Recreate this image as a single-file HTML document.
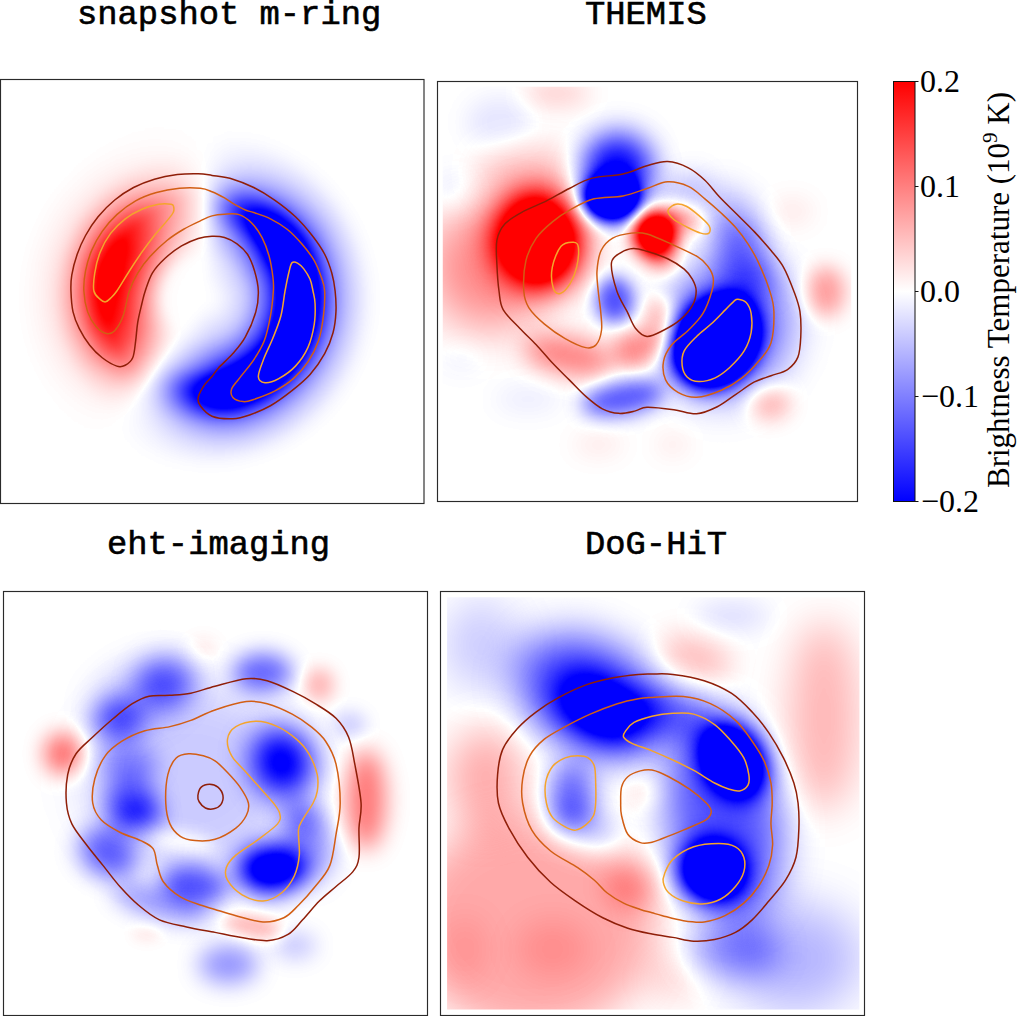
<!DOCTYPE html>
<html><head><meta charset="utf-8"><style>
html,body{margin:0;padding:0;background:#fff;width:1017px;height:1016px;overflow:hidden}
svg{display:block}
.tt{font-family:"Liberation Mono",monospace;font-size:33.8px;fill:#000;stroke:#000;stroke-width:0.6px}
.tk{font-family:"Liberation Serif",serif;font-size:32px;fill:#000}
.lb{font-family:"Liberation Serif",serif;font-size:31px;fill:#000}
.pl{mix-blend-mode:plus-lighter}
</style></head><body>
<svg width="1017" height="1016" viewBox="0 0 1017 1016">
<defs>
<filter id="p1_map" filterUnits="userSpaceOnUse" x="-200" y="-200" width="1416" height="1416" color-interpolation-filters="sRGB">
<feGaussianBlur stdDeviation="10"/>
<feColorMatrix type="matrix" values="2 -2 0 0 0  -2 2 0 0 0  0 0 0 0 0  0 0 0 0 1"/>
<feColorMatrix type="matrix" values="0 -1 0 0 1  -1 -1 0 0 1  -1 0 0 0 1  0 0 0 0 1"/>
</filter>
<clipPath id="p1_clip"><rect x="0" y="0" width="1016" height="1016"/></clipPath>
<radialGradient id="p1_rg" gradientUnits="userSpaceOnUse" cx="490" cy="525" r="500"><stop offset="0.0000" stop-color="#f00" stop-opacity="0.000"/><stop offset="0.1200" stop-color="#f00" stop-opacity="0.000"/><stop offset="0.1900" stop-color="#f00" stop-opacity="0.020"/><stop offset="0.2400" stop-color="#f00" stop-opacity="0.200"/><stop offset="0.2900" stop-color="#f00" stop-opacity="0.420"/><stop offset="0.3400" stop-color="#f00" stop-opacity="0.620"/><stop offset="0.4000" stop-color="#f00" stop-opacity="0.830"/><stop offset="0.4800" stop-color="#f00" stop-opacity="1.000"/><stop offset="0.5440" stop-color="#f00" stop-opacity="0.750"/><stop offset="0.5980" stop-color="#f00" stop-opacity="0.460"/><stop offset="0.6580" stop-color="#f00" stop-opacity="0.250"/><stop offset="0.7180" stop-color="#f00" stop-opacity="0.100"/><stop offset="0.7800" stop-color="#f00" stop-opacity="0.045"/><stop offset="0.8340" stop-color="#f00" stop-opacity="0.020"/><stop offset="0.9000" stop-color="#f00" stop-opacity="0.000"/><stop offset="1.0000" stop-color="#f00" stop-opacity="0.000"/></radialGradient><radialGradient id="p1_bg" gradientUnits="userSpaceOnUse" cx="490" cy="525" r="500"><stop offset="0.0000" stop-color="#0f0" stop-opacity="0.000"/><stop offset="0.0700" stop-color="#0f0" stop-opacity="0.015"/><stop offset="0.1400" stop-color="#0f0" stop-opacity="0.060"/><stop offset="0.1960" stop-color="#0f0" stop-opacity="0.110"/><stop offset="0.2540" stop-color="#0f0" stop-opacity="0.220"/><stop offset="0.3000" stop-color="#0f0" stop-opacity="0.330"/><stop offset="0.3480" stop-color="#0f0" stop-opacity="0.500"/><stop offset="0.3940" stop-color="#0f0" stop-opacity="0.750"/><stop offset="0.4480" stop-color="#0f0" stop-opacity="0.900"/><stop offset="0.5000" stop-color="#0f0" stop-opacity="0.750"/><stop offset="0.5500" stop-color="#0f0" stop-opacity="0.500"/><stop offset="0.6040" stop-color="#0f0" stop-opacity="0.280"/><stop offset="0.6520" stop-color="#0f0" stop-opacity="0.175"/><stop offset="0.7000" stop-color="#0f0" stop-opacity="0.100"/><stop offset="0.7800" stop-color="#0f0" stop-opacity="0.020"/><stop offset="0.8400" stop-color="#0f0" stop-opacity="0.000"/><stop offset="1.0000" stop-color="#0f0" stop-opacity="0.000"/></radialGradient>
</defs>
<g transform="translate(0 79) scale(0.417323)">
<g clip-path="url(#p1_clip)"><g filter="url(#p1_map)">
<rect x="-200" y="-200" width="1416" height="1416" fill="#000"/>
<path class="pl" d="M490 525 L990 525 L989.8 538.1 L989.3 551.2Z" fill="url(#p1_bg)" fill-opacity="1.000"/>
<path class="pl" d="M490 525 L989.3 551.2 L988.5 564.2 L987.3 577.3Z" fill="url(#p1_bg)" fill-opacity="1.000"/>
<path class="pl" d="M490 525 L987.3 577.3 L985.7 590.3 L983.8 603.2Z" fill="url(#p1_bg)" fill-opacity="1.000"/>
<path class="pl" d="M490 525 L983.8 603.2 L981.6 616.1 L979.1 629Z" fill="url(#p1_bg)" fill-opacity="1.000"/>
<path class="pl" d="M490 525 L979.1 629 L976.2 641.7 L973 654.4Z" fill="url(#p1_bg)" fill-opacity="1.000"/>
<path class="pl" d="M490 525 L973 654.4 L969.4 667 L965.5 679.5Z" fill="url(#p1_bg)" fill-opacity="1.000"/>
<path class="pl" d="M490 525 L965.5 679.5 L961.3 691.9 L956.8 704.2Z" fill="url(#p1_bg)" fill-opacity="1.000"/>
<path class="pl" d="M490 525 L956.8 704.2 L951.9 716.3 L946.8 728.4Z" fill="url(#p1_bg)" fill-opacity="1.000"/>
<path class="pl" d="M490 525 L946.8 728.4 L941.3 740.3 L935.5 752Z" fill="url(#p1_bg)" fill-opacity="1.000"/>
<path class="pl" d="M490 525 L935.5 752 L929.4 763.6 L923 775Z" fill="url(#p1_bg)" fill-opacity="1.000"/>
<path class="pl" d="M490 525 L923 775 L916.3 786.2 L909.3 797.3Z" fill="url(#p1_bg)" fill-opacity="1.000"/>
<path class="pl" d="M490 525 L909.3 797.3 L902.1 808.2 L894.5 818.9Z" fill="url(#p1_bg)" fill-opacity="1.000"/>
<path class="pl" d="M490 525 L894.5 818.9 L886.7 829.4 L878.6 839.7Z" fill="url(#p1_bg)" fill-opacity="1.000"/>
<path class="pl" d="M490 525 L878.6 839.7 L870.2 849.7 L861.6 859.6Z" fill="url(#p1_bg)" fill-opacity="1.000"/>
<path class="pl" d="M490 525 L861.6 859.6 L852.7 869.2 L843.6 878.6Z" fill="url(#p1_bg)" fill-opacity="1.000"/>
<path class="pl" d="M490 525 L843.6 878.6 L834.2 887.7 L824.6 896.6Z" fill="url(#p1_bg)" fill-opacity="1.000"/>
<path class="pl" d="M490 525 L824.6 896.6 L814.7 905.2 L804.7 913.6Z" fill="url(#p1_bg)" fill-opacity="1.000"/>
<path class="pl" d="M490 525 L804.7 913.6 L794.4 921.7 L783.9 929.5Z" fill="url(#p1_bg)" fill-opacity="1.000"/>
<path class="pl" d="M490 525 L783.9 929.5 L773.2 937.1 L762.3 944.3Z" fill="url(#p1_bg)" fill-opacity="1.000"/>
<path class="pl" d="M490 525 L762.3 944.3 L751.2 951.3 L740 958Z" fill="url(#p1_bg)" fill-opacity="1.000"/>
<path class="pl" d="M490 525 L740 958 L728.6 964.4 L717 970.5Z" fill="url(#p1_bg)" fill-opacity="0.995"/>
<path class="pl" d="M490 525 L717 970.5 L705.3 976.3 L693.4 981.8Z" fill="url(#p1_bg)" fill-opacity="0.985"/>
<path class="pl" d="M490 525 L693.4 981.8 L681.3 986.9 L669.2 991.8Z" fill="url(#p1_bg)" fill-opacity="0.975"/>
<path class="pl" d="M490 525 L669.2 991.8 L656.9 996.3 L644.5 1000.5Z" fill="url(#p1_bg)" fill-opacity="0.965"/>
<path class="pl" d="M490 525 L644.5 1000.5 L632 1004.4 L619.4 1008Z" fill="url(#p1_bg)" fill-opacity="0.955"/>
<path class="pl" d="M490 525 L619.4 1008 L606.7 1011.2 L594 1014.1Z" fill="url(#p1_bg)" fill-opacity="0.930"/>
<path class="pl" d="M490 525 L594 1014.1 L581.1 1016.6 L568.2 1018.8Z" fill="url(#p1_bg)" fill-opacity="0.891"/>
<path class="pl" d="M490 525 L568.2 1018.8 L555.3 1020.7 L542.3 1022.3Z" fill="url(#p1_bg)" fill-opacity="0.852"/>
<path class="pl" d="M490 525 L542.3 1022.3 L529.2 1023.5 L516.2 1024.3Z" fill="url(#p1_bg)" fill-opacity="0.810"/>
<path class="pl" d="M490 525 L516.2 1024.3 L503.1 1024.8 L490 1025Z" fill="url(#p1_bg)" fill-opacity="0.750"/>
<path class="pl" d="M490 525 L490 1025 L476.9 1024.8 L463.8 1024.3Z" fill="url(#p1_bg)" fill-opacity="0.690"/>
<path class="pl" d="M490 525 L463.8 1024.3 L450.8 1023.5 L437.7 1022.3Z" fill="url(#p1_bg)" fill-opacity="0.630"/>
<path class="pl" d="M490 525 L437.7 1022.3 L424.7 1020.7 L411.8 1018.8Z" fill="url(#p1_bg)" fill-opacity="0.565"/>
<path class="pl" d="M490 525 L411.8 1018.8 L398.9 1016.6 L386 1014.1Z" fill="url(#p1_bg)" fill-opacity="0.499"/>
<path class="pl" d="M490 525 L386 1014.1 L373.3 1011.2 L360.6 1008Z" fill="url(#p1_bg)" fill-opacity="0.433"/>
<path class="pl" d="M490 525 L360.6 1008 L348 1004.4 L335.5 1000.5Z" fill="url(#p1_bg)" fill-opacity="0.366"/>
<path class="pl" d="M490 525 L335.5 1000.5 L323.1 996.3 L310.8 991.8Z" fill="url(#p1_bg)" fill-opacity="0.299"/>
<path class="pl" d="M490 525 L310.8 991.8 L298.7 986.9 L286.6 981.8Z" fill="url(#p1_bg)" fill-opacity="0.231"/>
<path class="pl" d="M490 525 L286.6 981.8 L274.7 976.3 L263 970.5Z" fill="url(#p1_bg)" fill-opacity="0.170"/>
<path class="pl" d="M490 525 L263 970.5 L251.4 964.4 L240 958Z" fill="url(#p1_bg)" fill-opacity="0.110"/>
<path class="pl" d="M490 525 L240 958 L228.8 951.3 L217.7 944.3Z" fill="url(#p1_bg)" fill-opacity="0.050"/>
<path class="pl" d="M490 525 L217.7 944.3 L206.8 937.1 L196.1 929.5Z" fill="url(#p1_rg)" fill-opacity="0.008"/>
<path class="pl" d="M490 525 L196.1 929.5 L185.6 921.7 L175.3 913.6Z" fill="url(#p1_rg)" fill-opacity="0.057"/>
<path class="pl" d="M490 525 L175.3 913.6 L165.3 905.2 L155.4 896.6Z" fill="url(#p1_rg)" fill-opacity="0.105"/>
<path class="pl" d="M490 525 L155.4 896.6 L145.8 887.7 L136.4 878.6Z" fill="url(#p1_rg)" fill-opacity="0.153"/>
<path class="pl" d="M490 525 L136.4 878.6 L127.3 869.2 L118.4 859.6Z" fill="url(#p1_rg)" fill-opacity="0.202"/>
<path class="pl" d="M490 525 L118.4 859.6 L109.8 849.7 L101.4 839.7Z" fill="url(#p1_rg)" fill-opacity="0.243"/>
<path class="pl" d="M490 525 L101.4 839.7 L93.3 829.4 L85.5 818.9Z" fill="url(#p1_rg)" fill-opacity="0.283"/>
<path class="pl" d="M490 525 L85.5 818.9 L77.9 808.2 L70.7 797.3Z" fill="url(#p1_rg)" fill-opacity="0.322"/>
<path class="pl" d="M490 525 L70.7 797.3 L63.7 786.2 L57 775Z" fill="url(#p1_rg)" fill-opacity="0.362"/>
<path class="pl" d="M490 525 L57 775 L50.6 763.6 L44.5 752Z" fill="url(#p1_rg)" fill-opacity="0.401"/>
<path class="pl" d="M490 525 L44.5 752 L38.7 740.3 L33.2 728.4Z" fill="url(#p1_rg)" fill-opacity="0.428"/>
<path class="pl" d="M490 525 L33.2 728.4 L28.1 716.3 L23.2 704.2Z" fill="url(#p1_rg)" fill-opacity="0.452"/>
<path class="pl" d="M490 525 L23.2 704.2 L18.7 691.9 L14.5 679.5Z" fill="url(#p1_rg)" fill-opacity="0.476"/>
<path class="pl" d="M490 525 L14.5 679.5 L10.6 667 L7 654.4Z" fill="url(#p1_rg)" fill-opacity="0.500"/>
<path class="pl" d="M490 525 L7 654.4 L3.8 641.7 L0.9 629Z" fill="url(#p1_rg)" fill-opacity="0.524"/>
<path class="pl" d="M490 525 L0.9 629 L-1.6 616.1 L-3.8 603.2Z" fill="url(#p1_rg)" fill-opacity="0.537"/>
<path class="pl" d="M490 525 L-3.8 603.2 L-5.7 590.3 L-7.3 577.3Z" fill="url(#p1_rg)" fill-opacity="0.548"/>
<path class="pl" d="M490 525 L-7.3 577.3 L-8.5 564.2 L-9.3 551.2Z" fill="url(#p1_rg)" fill-opacity="0.559"/>
<path class="pl" d="M490 525 L-9.3 551.2 L-9.8 538.1 L-10 525Z" fill="url(#p1_rg)" fill-opacity="0.569"/>
<path class="pl" d="M490 525 L-10 525 L-9.8 511.9 L-9.3 498.8Z" fill="url(#p1_rg)" fill-opacity="0.580"/>
<path class="pl" d="M490 525 L-9.3 498.8 L-8.5 485.8 L-7.3 472.7Z" fill="url(#p1_rg)" fill-opacity="0.585"/>
<path class="pl" d="M490 525 L-7.3 472.7 L-5.7 459.7 L-3.8 446.8Z" fill="url(#p1_rg)" fill-opacity="0.589"/>
<path class="pl" d="M490 525 L-3.8 446.8 L-1.6 433.9 L0.9 421Z" fill="url(#p1_rg)" fill-opacity="0.592"/>
<path class="pl" d="M490 525 L0.9 421 L3.8 408.3 L7 395.6Z" fill="url(#p1_rg)" fill-opacity="0.596"/>
<path class="pl" d="M490 525 L7 395.6 L10.6 383 L14.5 370.5Z" fill="url(#p1_rg)" fill-opacity="0.599"/>
<path class="pl" d="M490 525 L14.5 370.5 L18.7 358.1 L23.2 345.8Z" fill="url(#p1_rg)" fill-opacity="0.592"/>
<path class="pl" d="M490 525 L23.2 345.8 L28.1 333.7 L33.2 321.6Z" fill="url(#p1_rg)" fill-opacity="0.582"/>
<path class="pl" d="M490 525 L33.2 321.6 L38.7 309.7 L44.5 298Z" fill="url(#p1_rg)" fill-opacity="0.573"/>
<path class="pl" d="M490 525 L44.5 298 L50.6 286.4 L57 275Z" fill="url(#p1_rg)" fill-opacity="0.563"/>
<path class="pl" d="M490 525 L57 275 L63.7 263.8 L70.7 252.7Z" fill="url(#p1_rg)" fill-opacity="0.554"/>
<path class="pl" d="M490 525 L70.7 252.7 L77.9 241.8 L85.5 231.1Z" fill="url(#p1_rg)" fill-opacity="0.532"/>
<path class="pl" d="M490 525 L85.5 231.1 L93.3 220.6 L101.4 210.3Z" fill="url(#p1_rg)" fill-opacity="0.508"/>
<path class="pl" d="M490 525 L101.4 210.3 L109.8 200.3 L118.4 190.4Z" fill="url(#p1_rg)" fill-opacity="0.484"/>
<path class="pl" d="M490 525 L118.4 190.4 L127.3 180.8 L136.4 171.4Z" fill="url(#p1_rg)" fill-opacity="0.460"/>
<path class="pl" d="M490 525 L136.4 171.4 L145.8 162.3 L155.4 153.4Z" fill="url(#p1_rg)" fill-opacity="0.436"/>
<path class="pl" d="M490 525 L155.4 153.4 L165.3 144.8 L175.3 136.4Z" fill="url(#p1_rg)" fill-opacity="0.405"/>
<path class="pl" d="M490 525 L175.3 136.4 L185.6 128.3 L196.1 120.5Z" fill="url(#p1_rg)" fill-opacity="0.373"/>
<path class="pl" d="M490 525 L196.1 120.5 L206.8 112.9 L217.7 105.7Z" fill="url(#p1_rg)" fill-opacity="0.340"/>
<path class="pl" d="M490 525 L217.7 105.7 L228.8 98.7 L240 92Z" fill="url(#p1_rg)" fill-opacity="0.308"/>
<path class="pl" d="M490 525 L240 92 L251.4 85.6 L263 79.5Z" fill="url(#p1_rg)" fill-opacity="0.275"/>
<path class="pl" d="M490 525 L263 79.5 L274.7 73.7 L286.6 68.2Z" fill="url(#p1_rg)" fill-opacity="0.247"/>
<path class="pl" d="M490 525 L286.6 68.2 L298.7 63.1 L310.8 58.2Z" fill="url(#p1_rg)" fill-opacity="0.219"/>
<path class="pl" d="M490 525 L310.8 58.2 L323.1 53.7 L335.5 49.5Z" fill="url(#p1_rg)" fill-opacity="0.192"/>
<path class="pl" d="M490 525 L335.5 49.5 L348 45.6 L360.6 42Z" fill="url(#p1_rg)" fill-opacity="0.164"/>
<path class="pl" d="M490 525 L360.6 42 L373.3 38.8 L386 35.9Z" fill="url(#p1_rg)" fill-opacity="0.137"/>
<path class="pl" d="M490 525 L386 35.9 L398.9 33.4 L411.8 31.2Z" fill="url(#p1_rg)" fill-opacity="0.107"/>
<path class="pl" d="M490 525 L411.8 31.2 L424.7 29.3 L437.7 27.7Z" fill="url(#p1_rg)" fill-opacity="0.076"/>
<path class="pl" d="M490 525 L437.7 27.7 L450.8 26.5 L463.8 25.7Z" fill="url(#p1_rg)" fill-opacity="0.046"/>
<path class="pl" d="M490 525 L463.8 25.7 L476.9 25.2 L490 25Z" fill="url(#p1_rg)" fill-opacity="0.015"/>
<path class="pl" d="M490 525 L490 25 L503.1 25.2 L516.2 25.7Z" fill="url(#p1_bg)" fill-opacity="0.036"/>
<path class="pl" d="M490 525 L516.2 25.7 L529.2 26.5 L542.3 27.7Z" fill="url(#p1_bg)" fill-opacity="0.108"/>
<path class="pl" d="M490 525 L542.3 27.7 L555.3 29.3 L568.2 31.2Z" fill="url(#p1_bg)" fill-opacity="0.185"/>
<path class="pl" d="M490 525 L568.2 31.2 L581.1 33.4 L594 35.9Z" fill="url(#p1_bg)" fill-opacity="0.262"/>
<path class="pl" d="M490 525 L594 35.9 L606.7 38.8 L619.4 42Z" fill="url(#p1_bg)" fill-opacity="0.331"/>
<path class="pl" d="M490 525 L619.4 42 L632 45.6 L644.5 49.5Z" fill="url(#p1_bg)" fill-opacity="0.399"/>
<path class="pl" d="M490 525 L644.5 49.5 L656.9 53.7 L669.2 58.2Z" fill="url(#p1_bg)" fill-opacity="0.468"/>
<path class="pl" d="M490 525 L669.2 58.2 L681.3 63.1 L693.4 68.2Z" fill="url(#p1_bg)" fill-opacity="0.522"/>
<path class="pl" d="M490 525 L693.4 68.2 L705.3 73.7 L717 79.5Z" fill="url(#p1_bg)" fill-opacity="0.574"/>
<path class="pl" d="M490 525 L717 79.5 L728.6 85.6 L740 92Z" fill="url(#p1_bg)" fill-opacity="0.625"/>
<path class="pl" d="M490 525 L740 92 L751.2 98.7 L762.3 105.7Z" fill="url(#p1_bg)" fill-opacity="0.672"/>
<path class="pl" d="M490 525 L762.3 105.7 L773.2 112.9 L783.9 120.5Z" fill="url(#p1_bg)" fill-opacity="0.718"/>
<path class="pl" d="M490 525 L783.9 120.5 L794.4 128.3 L804.7 136.4Z" fill="url(#p1_bg)" fill-opacity="0.763"/>
<path class="pl" d="M490 525 L804.7 136.4 L814.7 144.8 L824.6 153.4Z" fill="url(#p1_bg)" fill-opacity="0.806"/>
<path class="pl" d="M490 525 L824.6 153.4 L834.2 162.3 L843.6 171.4Z" fill="url(#p1_bg)" fill-opacity="0.842"/>
<path class="pl" d="M490 525 L843.6 171.4 L852.7 180.8 L861.6 190.4Z" fill="url(#p1_bg)" fill-opacity="0.878"/>
<path class="pl" d="M490 525 L861.6 190.4 L870.2 200.3 L878.6 210.3Z" fill="url(#p1_bg)" fill-opacity="0.914"/>
<path class="pl" d="M490 525 L878.6 210.3 L886.7 220.6 L894.5 231.1Z" fill="url(#p1_bg)" fill-opacity="0.940"/>
<path class="pl" d="M490 525 L894.5 231.1 L902.1 241.8 L909.3 252.7Z" fill="url(#p1_bg)" fill-opacity="0.964"/>
<path class="pl" d="M490 525 L909.3 252.7 L916.3 263.8 L923 275Z" fill="url(#p1_bg)" fill-opacity="0.988"/>
<path class="pl" d="M490 525 L923 275 L929.4 286.4 L935.5 298Z" fill="url(#p1_bg)" fill-opacity="1.000"/>
<path class="pl" d="M490 525 L935.5 298 L941.3 309.7 L946.8 321.6Z" fill="url(#p1_bg)" fill-opacity="1.000"/>
<path class="pl" d="M490 525 L946.8 321.6 L951.9 333.7 L956.8 345.8Z" fill="url(#p1_bg)" fill-opacity="1.000"/>
<path class="pl" d="M490 525 L956.8 345.8 L961.3 358.1 L965.5 370.5Z" fill="url(#p1_bg)" fill-opacity="1.000"/>
<path class="pl" d="M490 525 L965.5 370.5 L969.4 383 L973 395.6Z" fill="url(#p1_bg)" fill-opacity="1.000"/>
<path class="pl" d="M490 525 L973 395.6 L976.2 408.3 L979.1 421Z" fill="url(#p1_bg)" fill-opacity="1.000"/>
<path class="pl" d="M490 525 L979.1 421 L981.6 433.9 L983.8 446.8Z" fill="url(#p1_bg)" fill-opacity="1.000"/>
<path class="pl" d="M490 525 L983.8 446.8 L985.7 459.7 L987.3 472.7Z" fill="url(#p1_bg)" fill-opacity="1.000"/>
<path class="pl" d="M490 525 L987.3 472.7 L988.5 485.8 L989.3 498.8Z" fill="url(#p1_bg)" fill-opacity="1.000"/>
<path class="pl" d="M490 525 L989.3 498.8 L989.8 511.9 L990 525Z" fill="url(#p1_bg)" fill-opacity="1.000"/>
</g></g>
<path d="M300 686 C293.7 689.3 289.2 691 280 688 C270.8 685 255.8 676.3 245 668 C234.2 659.7 224.2 649.7 215 638 C205.8 626.3 196.7 611.3 190 598 C183.3 584.7 178.3 573 175 558 C171.7 543 170.5 522.7 170 508 C169.5 493.3 169.5 484.7 172 470 C174.5 455.3 179.5 435.8 185 420 C190.5 404.2 196.7 390 205 375 C213.3 360 223.3 344.2 235 330 C246.7 315.8 260.8 301.7 275 290 C289.2 278.3 304.2 268.3 320 260 C335.8 251.7 352.5 245.2 370 240 C387.5 234.8 407.5 231.2 425 229 C442.5 226.8 461.2 226.7 475 227 C488.8 227.3 494.2 228.8 508 231 C521.8 233.2 541.3 235.2 558 240 C574.7 244.8 591.3 251.7 608 260 C624.7 268.3 641.3 278.3 658 290 C674.7 301.7 693 315.8 708 330 C723 344.2 736.3 360 748 375 C759.7 390 770.2 405 778 420 C785.8 435 790.8 450.3 795 465 C799.2 479.7 801.3 492.5 803 508 C804.7 523.5 805.8 541.3 805 558 C804.2 574.7 802.5 591.3 798 608 C793.5 624.7 787.2 641.3 778 658 C768.8 674.7 756.3 693 743 708 C729.7 723 713.8 735.5 698 748 C682.2 760.5 664.7 773.5 648 783 C631.3 792.5 613 799.8 598 805 C583 810.2 573 813.5 558 814 C543 814.5 521 813.2 508 808 C495 802.8 485.5 790.5 480 783 C474.5 775.5 473.3 771.3 475 763 C476.7 754.7 484.5 741.3 490 733 C495.5 724.7 502.5 719.7 508 713 C513.5 706.3 514.7 702.2 523 693 C531.3 683.8 547.2 670.5 558 658 C568.8 645.5 578.8 634.7 588 618 C597.2 601.3 607.8 576.3 613 558 C618.2 539.7 619.5 524.3 619 508 C618.5 491.7 614.3 474.7 610 460 C605.7 445.3 600 430.8 593 420 C586 409.2 577.2 401.7 568 395 C558.8 388.3 548 383 538 380 C528 377 518.5 376.7 508 377 C497.5 377.3 487.2 378.2 475 382 C462.8 385.8 448.3 392 435 400 C421.7 408 406.7 419.2 395 430 C383.3 440.8 372.8 452 365 465 C357.2 478 352.2 495.8 348 508 C343.8 520.2 343 525.5 340 538 C337 550.5 332.5 568 330 583 C327.5 598 327 613.8 325 628 C323 642.2 322.2 658.3 318 668 C313.8 677.7 306.3 682.7 300 686Z" fill="none" stroke="#8f1e08" stroke-width="3.6" stroke-linejoin="round"/>
<path d="M255 610 C247.5 608.3 237.5 601.7 230 593 C222.5 584.3 214.8 572.2 210 558 C205.2 543.8 201.8 524.3 201 508 C200.2 491.7 201.8 476.3 205 460 C208.2 443.7 213.3 425.8 220 410 C226.7 394.2 235 379.2 245 365 C255 350.8 266.7 337.2 280 325 C293.3 312.8 309.2 300.8 325 292 C340.8 283.2 357.5 277 375 272 C392.5 267 412.5 263.7 430 262 C447.5 260.3 467 260.7 480 262 C493 263.3 498.3 266.2 508 270 C517.7 273.8 529.7 280.3 538 285 C546.3 289.7 549.7 293.2 558 298 C566.3 302.8 579.7 310.3 588 314 C596.3 317.7 598 316.5 608 320 C618 323.5 634.7 328.3 648 335 C661.3 341.7 675.5 350 688 360 C700.5 370 712.2 382.5 723 395 C733.8 407.5 745.2 421.7 753 435 C760.8 448.3 765.8 462.8 770 475 C774.2 487.2 777.2 492.5 778 508 C778.8 523.5 777.5 548 775 568 C772.5 588 769.2 609.7 763 628 C756.8 646.3 748 663 738 678 C728 693 716.3 706.3 703 718 C689.7 729.7 673.8 739.7 658 748 C642.2 756.3 620.5 763.8 608 768 C595.5 772.2 591.3 773.8 583 773 C574.7 772.2 562.7 768 558 763 C553.3 758 552.5 750.5 555 743 C557.5 735.5 564.2 729.7 573 718 C581.8 706.3 598 688 608 673 C618 658 626.3 645.5 633 628 C639.7 610.5 644.3 588 648 568 C651.7 548 654 523.5 655 508 C656 492.5 655.7 488.8 654 475 C652.3 461.2 649.3 440.8 645 425 C640.7 409.2 635 393.3 628 380 C621 366.7 612.2 354.2 603 345 C593.8 335.8 583.8 328.5 573 325 C562.2 321.5 548.8 323.5 538 324 C527.2 324.5 517.7 325.3 508 328 C498.3 330.7 491.3 334.7 480 340 C468.7 345.3 453.3 352.2 440 360 C426.7 367.8 413.3 376.2 400 387 C386.7 397.8 371.7 412 360 425 C348.3 438 338.3 451.2 330 465 C321.7 478.8 315.8 490.8 310 508 C304.2 525.2 300.8 552.2 295 568 C289.2 583.8 281.7 596 275 603 C268.3 610 262.5 611.7 255 610Z" fill="none" stroke="#d25e14" stroke-width="3.6" stroke-linejoin="round"/>
<path d="M225 508 C222.8 497.5 224.5 480.5 227 465 C229.5 449.5 233.7 430.8 240 415 C246.3 399.2 255 383.3 265 370 C275 356.7 287.5 344.7 300 335 C312.5 325.3 326.7 317.8 340 312 C353.3 306.2 368.3 302 380 300 C391.7 298 404 299 410 300 C416 301 415.2 302.7 416 306 C416.8 309.3 417.7 314.3 415 320 C412.3 325.7 407.5 330.8 400 340 C392.5 349.2 380 362.5 370 375 C360 387.5 350 400.8 340 415 C330 429.2 320 444.5 310 460 C300 475.5 287.5 497.2 280 508 C272.5 518.8 269.5 520.7 265 525 C260.5 529.3 257.2 533.5 253 534 C248.8 534.5 244.7 532.3 240 528 C235.3 523.7 227.2 518.5 225 508Z" fill="none" stroke="#f4a42c" stroke-width="3.6" stroke-linejoin="round"/>
<path d="M693 460 C695.8 448.7 696.7 443.2 700 440 C703.3 436.8 708.3 438.5 713 441 C717.7 443.5 723 448.5 728 455 C733 461.5 739.3 471.2 743 480 C746.7 488.8 748 498.3 750 508 C752 517.7 754.5 524.7 755 538 C755.5 551.3 755.8 570.5 753 588 C750.2 605.5 745.5 626.3 738 643 C730.5 659.7 719.7 675.5 708 688 C696.3 700.5 680.2 711.3 668 718 C655.8 724.7 643.2 728.8 635 728 C626.8 727.2 619.3 723 619 713 C618.7 703 627.3 683 633 668 C638.7 653 646.3 639.7 653 623 C659.7 606.3 668 587.2 673 568 C678 548.8 679.7 526 683 508 C686.3 490 690.2 471.3 693 460Z" fill="none" stroke="#f4a42c" stroke-width="3.6" stroke-linejoin="round"/>
</g>
<defs>
<filter id="p2_b46" filterUnits="userSpaceOnUse" x="-200" y="-200" width="1416" height="1416" color-interpolation-filters="sRGB"><feGaussianBlur stdDeviation="46"/></filter>
<filter id="p2_b60" filterUnits="userSpaceOnUse" x="-200" y="-200" width="1416" height="1416" color-interpolation-filters="sRGB"><feGaussianBlur stdDeviation="60"/></filter>
<filter id="p2_b40" filterUnits="userSpaceOnUse" x="-200" y="-200" width="1416" height="1416" color-interpolation-filters="sRGB"><feGaussianBlur stdDeviation="40"/></filter>
<filter id="p2_b25" filterUnits="userSpaceOnUse" x="-200" y="-200" width="1416" height="1416" color-interpolation-filters="sRGB"><feGaussianBlur stdDeviation="25"/></filter>
<filter id="p2_b20" filterUnits="userSpaceOnUse" x="-200" y="-200" width="1416" height="1416" color-interpolation-filters="sRGB"><feGaussianBlur stdDeviation="20"/></filter>
<filter id="p2_b30" filterUnits="userSpaceOnUse" x="-200" y="-200" width="1416" height="1416" color-interpolation-filters="sRGB"><feGaussianBlur stdDeviation="30"/></filter>
<filter id="p2_b35" filterUnits="userSpaceOnUse" x="-200" y="-200" width="1416" height="1416" color-interpolation-filters="sRGB"><feGaussianBlur stdDeviation="35"/></filter>
<filter id="p2_b50" filterUnits="userSpaceOnUse" x="-200" y="-200" width="1416" height="1416" color-interpolation-filters="sRGB"><feGaussianBlur stdDeviation="50"/></filter>
<filter id="p2_b28" filterUnits="userSpaceOnUse" x="-200" y="-200" width="1416" height="1416" color-interpolation-filters="sRGB"><feGaussianBlur stdDeviation="28"/></filter>
<filter id="p2_map" filterUnits="userSpaceOnUse" x="-200" y="-200" width="1416" height="1416" color-interpolation-filters="sRGB">
<feColorMatrix type="matrix" values="2 -2 0 0 0  -2 2 0 0 0  0 0 0 0 0  0 0 0 0 1"/>
<feColorMatrix type="matrix" values="0 -1 0 0 1  -1 -1 0 0 1  -1 0 0 0 1  0 0 0 0 1"/>
</filter>
<clipPath id="p2_clip"><rect x="14" y="14" width="988" height="988"/></clipPath>

</defs>
<g transform="translate(437 81) scale(0.413386)">
<g clip-path="url(#p2_clip)"><g filter="url(#p2_map)">
<rect x="-200" y="-200" width="1416" height="1416" fill="#000"/>
<ellipse class="pl" cx="250" cy="382" rx="88" ry="104" transform="rotate(-15 250 382)" fill="#f00" fill-opacity="1.000" filter="url(#p2_b46)"/>
<ellipse class="pl" cx="130" cy="450" rx="150" ry="150" fill="#f00" fill-opacity="0.240" filter="url(#p2_b60)"/>
<ellipse class="pl" cx="220" cy="220" rx="120" ry="60" fill="#f00" fill-opacity="0.120" filter="url(#p2_b40)"/>
<ellipse class="pl" cx="528" cy="370" rx="46" ry="50" fill="#f00" fill-opacity="1.000" filter="url(#p2_b25)"/>
<ellipse class="pl" cx="548" cy="440" rx="40" ry="30" fill="#f00" fill-opacity="0.150" filter="url(#p2_b20)"/>
<ellipse class="pl" cx="600" cy="330" rx="50" ry="25" transform="rotate(30 600 330)" fill="#f00" fill-opacity="0.200" filter="url(#p2_b20)"/>
<ellipse class="pl" cx="320" cy="665" rx="110" ry="45" transform="rotate(10 320 665)" fill="#f00" fill-opacity="0.250" filter="url(#p2_b30)"/>
<ellipse class="pl" cx="480" cy="650" rx="50" ry="45" fill="#f00" fill-opacity="0.250" filter="url(#p2_b25)"/>
<ellipse class="pl" cx="540" cy="590" rx="35" ry="70" fill="#f00" fill-opacity="0.250" filter="url(#p2_b25)"/>
<ellipse class="pl" cx="940" cy="510" rx="45" ry="60" fill="#f00" fill-opacity="0.200" filter="url(#p2_b25)"/>
<ellipse class="pl" cx="803" cy="778" rx="50" ry="40" fill="#f00" fill-opacity="0.170" filter="url(#p2_b25)"/>
<ellipse class="pl" cx="290" cy="30" rx="80" ry="30" fill="#f00" fill-opacity="0.100" filter="url(#p2_b30)"/>
<ellipse class="pl" cx="860" cy="315" rx="50" ry="30" fill="#f00" fill-opacity="0.050" filter="url(#p2_b30)"/>
<ellipse class="pl" cx="390" cy="880" rx="60" ry="25" fill="#f00" fill-opacity="0.050" filter="url(#p2_b30)"/>
<ellipse class="pl" cx="570" cy="880" rx="40" ry="25" fill="#f00" fill-opacity="0.050" filter="url(#p2_b30)"/>
<ellipse class="pl" cx="420" cy="285" rx="62" ry="45" fill="#0f0" fill-opacity="1.000" filter="url(#p2_b25)"/>
<ellipse class="pl" cx="440" cy="200" rx="80" ry="80" fill="#0f0" fill-opacity="0.300" filter="url(#p2_b35)"/>
<ellipse class="pl" cx="430" cy="240" rx="90" ry="90" fill="#0f0" fill-opacity="0.250" filter="url(#p2_b40)"/>
<ellipse class="pl" cx="675" cy="630" rx="85" ry="110" transform="rotate(35 675 630)" fill="#0f0" fill-opacity="1.000" filter="url(#p2_b30)"/>
<ellipse class="pl" cx="700" cy="600" rx="150" ry="170" transform="rotate(30 700 600)" fill="#0f0" fill-opacity="0.300" filter="url(#p2_b50)"/>
<ellipse class="pl" cx="740" cy="430" rx="60" ry="100" transform="rotate(-30 740 430)" fill="#0f0" fill-opacity="0.220" filter="url(#p2_b35)"/>
<ellipse class="pl" cx="450" cy="768" rx="100" ry="38" transform="rotate(-10 450 768)" fill="#0f0" fill-opacity="0.350" filter="url(#p2_b25)"/>
<ellipse class="pl" cx="430" cy="530" rx="45" ry="55" fill="#0f0" fill-opacity="0.350" filter="url(#p2_b20)"/>
<ellipse class="pl" cx="150" cy="100" rx="80" ry="60" fill="#0f0" fill-opacity="0.050" filter="url(#p2_b30)"/>
<ellipse class="pl" cx="40" cy="270" rx="40" ry="50" fill="#0f0" fill-opacity="0.060" filter="url(#p2_b30)"/>
<ellipse class="pl" cx="720" cy="330" rx="50" ry="90" transform="rotate(-40 720 330)" fill="#0f0" fill-opacity="0.150" filter="url(#p2_b35)"/>
<ellipse class="pl" cx="605" cy="265" rx="60" ry="40" transform="rotate(-20 605 265)" fill="#0f0" fill-opacity="0.120" filter="url(#p2_b28)"/>
<ellipse class="pl" cx="60" cy="670" rx="50" ry="30" fill="#0f0" fill-opacity="0.040" filter="url(#p2_b30)"/>
<ellipse class="pl" cx="220" cy="770" rx="80" ry="30" fill="#0f0" fill-opacity="0.040" filter="url(#p2_b30)"/>
</g></g>
<path d="M150 508 C147.5 490 145.8 465.5 145 445 C144.2 424.5 141.7 401.7 145 385 C148.3 368.3 154.2 356.7 165 345 C175.8 333.3 193.3 324.2 210 315 C226.7 305.8 246.7 299.2 265 290 C283.3 280.8 301.7 269.2 320 260 C338.3 250.8 353.3 240.8 375 235 C396.7 229.2 427.8 230 450 225 C472.2 220 490 210 508 205 C526 200 541.3 194.2 558 195 C574.7 195.8 593 202.5 608 210 C623 217.5 635.5 228.3 648 240 C660.5 251.7 670.5 266.7 683 280 C695.5 293.3 708.8 305.8 723 320 C737.2 334.2 753.8 350 768 365 C782.2 380 796.3 395.8 808 410 C819.7 424.2 828.8 433.7 838 450 C847.2 466.3 856.3 490 863 508 C869.7 526 875.2 539.7 878 558 C880.8 576.3 880.8 599.7 880 618 C879.2 636.3 878.3 654.7 873 668 C867.7 681.3 858.8 690.5 848 698 C837.2 705.5 821.3 708 808 713 C794.7 718 782.2 720.5 768 728 C753.8 735.5 738 748 723 758 C708 768 693.8 780.2 678 788 C662.2 795.8 645.5 803.8 628 805 C610.5 806.2 593 797.7 573 795 C553 792.3 523.5 788.5 508 789 C492.5 789.5 491.3 795.5 480 798 C468.7 800.5 453.3 804.8 440 804 C426.7 803.2 413.3 799.8 400 793 C386.7 786.2 373.3 774.7 360 763 C346.7 751.3 333.3 736.3 320 723 C306.7 709.7 293.3 697.2 280 683 C266.7 668.8 253.3 652.2 240 638 C226.7 623.8 213.3 612.2 200 598 C186.7 583.8 168.3 568 160 553 C151.7 538 152.5 526 150 508Z" fill="none" stroke="#8f1e08" stroke-width="3.6" stroke-linejoin="round"/>
<path d="M422 440 C423.7 424.5 436.2 420.8 445 415 C453.8 409.2 464.5 405.5 475 405 C485.5 404.5 494.2 407.8 508 412 C521.8 416.2 543 422.8 558 430 C573 437.2 588 446.7 598 455 C608 463.3 613.2 471.2 618 480 C622.8 488.8 627 497.5 627 508 C627 518.5 624.5 531.3 618 543 C611.5 554.7 599.7 568 588 578 C576.3 588 561.3 596.3 548 603 C534.7 609.7 519.3 618.8 508 618 C496.7 617.2 488 608 480 598 C472 588 467.5 573 460 558 C452.5 543 441.3 527.7 435 508 C428.7 488.3 420.3 455.5 422 440Z" fill="none" stroke="#8f1e08" stroke-width="3.6" stroke-linejoin="round"/>
<path d="M210 508 C208.8 489.2 210 456.3 215 435 C220 413.7 229.2 395.8 240 380 C250.8 364.2 265.8 351.7 280 340 C294.2 328.3 308.3 319.2 325 310 C341.7 300.8 359.2 290.3 380 285 C400.8 279.7 428.7 282.2 450 278 C471.3 273.8 490 265.7 508 260 C526 254.3 541.3 244.8 558 244 C574.7 243.2 593 248.2 608 255 C623 261.8 634.7 274.2 648 285 C661.3 295.8 675.5 308.3 688 320 C700.5 331.7 712.2 342.5 723 355 C733.8 367.5 743.8 380.8 753 395 C762.2 409.2 769.3 421.2 778 440 C786.7 458.8 798.8 488.3 805 508 C811.2 527.7 814.5 537.2 815 558 C815.5 578.8 814.2 613 808 633 C801.8 653 789.7 663.8 778 678 C766.3 692.2 753 706.3 738 718 C723 729.7 706.3 740.2 688 748 C669.7 755.8 645.5 764.2 628 765 C610.5 765.8 595.5 760 583 753 C570.5 746 558.8 735.5 553 723 C547.2 710.5 545.5 692.2 548 678 C550.5 663.8 558 650.5 568 638 C578 625.5 595.5 615.5 608 603 C620.5 590.5 633.5 578.8 643 563 C652.5 547.2 660.8 522.7 665 508 C669.2 493.3 669.7 485 668 475 C666.3 465 661.3 456.3 655 448 C648.7 439.7 644.5 433.8 630 425 C615.5 416.2 588.3 404.2 568 395 C547.7 385.8 524.3 374.5 508 370 C491.7 365.5 483.8 366.3 470 368 C456.2 369.7 437.2 373 425 380 C412.8 387 403.3 396.7 397 410 C390.7 423.3 388.2 443.7 387 460 C385.8 476.3 388.5 491.7 390 508 C391.5 524.3 394.7 542.2 396 558 C397.3 573.8 399.8 589.7 398 603 C396.2 616.3 391.3 631 385 638 C378.7 645 372.5 647.5 360 645 C347.5 642.5 326.7 632.5 310 623 C293.3 613.5 274.7 600.5 260 588 C245.3 575.5 230.3 561.3 222 548 C213.7 534.7 211.2 526.8 210 508Z" fill="none" stroke="#d25e14" stroke-width="3.6" stroke-linejoin="round"/>
<path d="M300 400 C308.5 390 323 389.7 330 390 C337 390.3 340.7 392 342 402 C343.3 412 341.3 435.3 338 450 C334.7 464.7 328.7 479.3 322 490 C315.3 500.7 304.8 512.3 298 514 C291.2 515.7 284.2 510.7 281 500 C277.8 489.3 275.8 466.7 279 450 C282.2 433.3 291.5 410 300 400Z" fill="none" stroke="#f4a42c" stroke-width="3.6" stroke-linejoin="round"/>
<path d="M560 310 C563 306.3 570.8 299.2 578 298 C585.2 296.8 593.8 298.5 603 303 C612.2 307.5 623.8 317.2 633 325 C642.2 332.8 653.8 342.8 658 350 C662.2 357.2 661.3 365 658 368 C654.7 371 646.3 370.2 638 368 C629.7 365.8 618.8 360.5 608 355 C597.2 349.5 581 340.8 573 335 C565 329.2 562.2 324.2 560 320 C557.8 315.8 557 313.7 560 310Z" fill="none" stroke="#f4a42c" stroke-width="3.6" stroke-linejoin="round"/>
<path d="M728 528 C733 528.5 742.7 530.2 748 536 C753.3 541.8 758 551 760 563 C762 575 762.8 593 760 608 C757.2 623 751.7 638.8 743 653 C734.3 667.2 719.7 682.2 708 693 C696.3 703.8 685.5 712.3 673 718 C660.5 723.7 644.3 727.3 633 727 C621.7 726.7 611.7 722.5 605 716 C598.3 709.5 594.2 698.5 593 688 C591.8 677.5 592.2 664.7 598 653 C603.8 641.3 617.2 628.8 628 618 C638.8 607.2 651.3 598.8 663 588 C674.7 577.2 688.8 562.2 698 553 C707.2 543.8 713 537.2 718 533 C723 528.8 723 527.5 728 528Z" fill="none" stroke="#f4a42c" stroke-width="3.6" stroke-linejoin="round"/>
</g>
<defs>
<filter id="p3_b60" filterUnits="userSpaceOnUse" x="-200" y="-200" width="1416" height="1416" color-interpolation-filters="sRGB"><feGaussianBlur stdDeviation="60"/></filter>
<filter id="p3_b38" filterUnits="userSpaceOnUse" x="-200" y="-200" width="1416" height="1416" color-interpolation-filters="sRGB"><feGaussianBlur stdDeviation="38"/></filter>
<filter id="p3_b32" filterUnits="userSpaceOnUse" x="-200" y="-200" width="1416" height="1416" color-interpolation-filters="sRGB"><feGaussianBlur stdDeviation="32"/></filter>
<filter id="p3_b30" filterUnits="userSpaceOnUse" x="-200" y="-200" width="1416" height="1416" color-interpolation-filters="sRGB"><feGaussianBlur stdDeviation="30"/></filter>
<filter id="p3_b25" filterUnits="userSpaceOnUse" x="-200" y="-200" width="1416" height="1416" color-interpolation-filters="sRGB"><feGaussianBlur stdDeviation="25"/></filter>
<filter id="p3_b40" filterUnits="userSpaceOnUse" x="-200" y="-200" width="1416" height="1416" color-interpolation-filters="sRGB"><feGaussianBlur stdDeviation="40"/></filter>
<filter id="p3_b28" filterUnits="userSpaceOnUse" x="-200" y="-200" width="1416" height="1416" color-interpolation-filters="sRGB"><feGaussianBlur stdDeviation="28"/></filter>
<filter id="p3_b18" filterUnits="userSpaceOnUse" x="-200" y="-200" width="1416" height="1416" color-interpolation-filters="sRGB"><feGaussianBlur stdDeviation="18"/></filter>
<filter id="p3_b26" filterUnits="userSpaceOnUse" x="-200" y="-200" width="1416" height="1416" color-interpolation-filters="sRGB"><feGaussianBlur stdDeviation="26"/></filter>
<filter id="p3_b20" filterUnits="userSpaceOnUse" x="-200" y="-200" width="1416" height="1416" color-interpolation-filters="sRGB"><feGaussianBlur stdDeviation="20"/></filter>
<filter id="p3_b15" filterUnits="userSpaceOnUse" x="-200" y="-200" width="1416" height="1416" color-interpolation-filters="sRGB"><feGaussianBlur stdDeviation="15"/></filter>
<filter id="p3_map" filterUnits="userSpaceOnUse" x="-200" y="-200" width="1416" height="1416" color-interpolation-filters="sRGB">
<feColorMatrix type="matrix" values="2 -2 0 0 0  -2 2 0 0 0  0 0 0 0 0  0 0 0 0 1"/>
<feColorMatrix type="matrix" values="0 -1 0 0 1  -1 -1 0 0 1  -1 0 0 0 1  0 0 0 0 1"/>
</filter>
<clipPath id="p3_clip"><rect x="0" y="0" width="1016" height="1016"/></clipPath>

</defs>
<g transform="translate(3 591) scale(0.417323)">
<g clip-path="url(#p3_clip)"><g filter="url(#p3_map)">
<rect x="-200" y="-200" width="1416" height="1416" fill="#000"/>
<ellipse class="pl" cx="450" cy="450" rx="250" ry="230" fill="#0f0" fill-opacity="0.100" filter="url(#p3_b60)"/>
<ellipse class="pl" cx="672" cy="410" rx="70" ry="80" transform="rotate(-20 672 410)" fill="#0f0" fill-opacity="0.520" filter="url(#p3_b38)"/>
<ellipse class="pl" cx="640" cy="668" rx="74" ry="52" fill="#0f0" fill-opacity="0.700" filter="url(#p3_b32)"/>
<ellipse class="pl" cx="730" cy="620" rx="60" ry="80" fill="#0f0" fill-opacity="0.220" filter="url(#p3_b30)"/>
<ellipse class="pl" cx="718" cy="540" rx="50" ry="40" fill="#0f0" fill-opacity="0.180" filter="url(#p3_b25)"/>
<ellipse class="pl" cx="623" cy="195" rx="70" ry="45" fill="#0f0" fill-opacity="0.300" filter="url(#p3_b25)"/>
<ellipse class="pl" cx="390" cy="215" rx="70" ry="60" fill="#0f0" fill-opacity="0.220" filter="url(#p3_b30)"/>
<ellipse class="pl" cx="330" cy="250" rx="120" ry="70" transform="rotate(-25 330 250)" fill="#0f0" fill-opacity="0.130" filter="url(#p3_b40)"/>
<ellipse class="pl" cx="275" cy="310" rx="60" ry="50" fill="#0f0" fill-opacity="0.240" filter="url(#p3_b28)"/>
<ellipse class="pl" cx="305" cy="505" rx="65" ry="55" fill="#0f0" fill-opacity="0.250" filter="url(#p3_b28)"/>
<ellipse class="pl" cx="430" cy="600" rx="80" ry="22" transform="rotate(10 430 600)" fill="#f00" fill-opacity="0.100" filter="url(#p3_b18)"/>
<ellipse class="pl" cx="300" cy="415" rx="70" ry="40" fill="#0f0" fill-opacity="0.180" filter="url(#p3_b28)"/>
<ellipse class="pl" cx="250" cy="628" rx="70" ry="55" transform="rotate(30 250 628)" fill="#0f0" fill-opacity="0.300" filter="url(#p3_b28)"/>
<ellipse class="pl" cx="325" cy="540" rx="60" ry="35" fill="#0f0" fill-opacity="0.180" filter="url(#p3_b25)"/>
<ellipse class="pl" cx="460" cy="705" rx="80" ry="42" transform="rotate(10 460 705)" fill="#0f0" fill-opacity="0.320" filter="url(#p3_b26)"/>
<ellipse class="pl" cx="380" cy="750" rx="120" ry="35" transform="rotate(15 380 750)" fill="#0f0" fill-opacity="0.200" filter="url(#p3_b25)"/>
<ellipse class="pl" cx="540" cy="895" rx="70" ry="45" fill="#0f0" fill-opacity="0.220" filter="url(#p3_b28)"/>
<ellipse class="pl" cx="700" cy="850" rx="50" ry="30" fill="#0f0" fill-opacity="0.120" filter="url(#p3_b25)"/>
<ellipse class="pl" cx="830" cy="320" rx="40" ry="30" fill="#0f0" fill-opacity="0.100" filter="url(#p3_b20)"/>
<ellipse class="pl" cx="145" cy="390" rx="45" ry="50" fill="#f00" fill-opacity="0.300" filter="url(#p3_b25)"/>
<ellipse class="pl" cx="870" cy="500" rx="45" ry="120" fill="#f00" fill-opacity="0.280" filter="url(#p3_b28)"/>
<ellipse class="pl" cx="758" cy="225" rx="35" ry="40" fill="#f00" fill-opacity="0.150" filter="url(#p3_b20)"/>
<ellipse class="pl" cx="480" cy="140" rx="30" ry="25" fill="#f00" fill-opacity="0.060" filter="url(#p3_b20)"/>
<ellipse class="pl" cx="600" cy="805" rx="70" ry="25" transform="rotate(10 600 805)" fill="#f00" fill-opacity="0.150" filter="url(#p3_b18)"/>
<ellipse class="pl" cx="345" cy="820" rx="35" ry="18" fill="#f00" fill-opacity="0.050" filter="url(#p3_b15)"/>
</g></g>
<path d="M152 508 C150.3 488.3 151.2 459.7 155 440 C158.8 420.3 165 405 175 390 C185 375 200 364.2 215 350 C230 335.8 249.2 318.3 265 305 C280.8 291.7 295.8 278.8 310 270 C324.2 261.2 335 255.3 350 252 C365 248.7 383.3 251.2 400 250 C416.7 248.8 432 248.7 450 245 C468 241.3 485.8 233.8 508 228 C530.2 222.2 562.2 212.2 583 210 C603.8 207.8 614.7 210 633 215 C651.3 220 673.8 230.8 693 240 C712.2 249.2 730.5 259.2 748 270 C765.5 280.8 784.7 291.7 798 305 C811.3 318.3 820.5 331.7 828 350 C835.5 368.3 838 388.7 843 415 C848 441.3 856.3 482.5 858 508 C859.7 533.5 853.8 546.3 853 568 C852.2 589.7 855.5 620.5 853 638 C850.5 655.5 847.2 661.3 838 673 C828.8 684.7 811.3 696.3 798 708 C784.7 719.7 771.3 729.7 758 743 C744.7 756.3 730.5 774.7 718 788 C705.5 801.3 697.2 814.7 683 823 C668.8 831.3 653.8 837.2 633 838 C612.2 838.8 578.8 831.3 558 828 C537.2 824.7 527.7 821.8 508 818 C488.3 814.2 462.2 810 440 805 C417.8 800 394.2 796.7 375 788 C355.8 779.3 340.8 766.3 325 753 C309.2 739.7 294.2 723.8 280 708 C265.8 692.2 253.3 674.7 240 658 C226.7 641.3 212.5 624.7 200 608 C187.5 591.3 173 574.7 165 558 C157 541.3 153.7 527.7 152 508Z" fill="none" stroke="#8f1e08" stroke-width="3.6" stroke-linejoin="round"/>
<path d="M215 508 C212.5 491.7 215 468.8 220 450 C225 431.2 234.2 410 245 395 C255.8 380 269.2 370 285 360 C300.8 350 320.8 340.8 340 335 C359.2 329.2 381.7 329.2 400 325 C418.3 320.8 432 316.7 450 310 C468 303.3 485.8 292.5 508 285 C530.2 277.5 562.2 267.5 583 265 C603.8 262.5 614.7 265 633 270 C651.3 275 675.5 285.8 693 295 C710.5 304.2 724.7 314.2 738 325 C751.3 335.8 763 345 773 360 C783 375 792.2 390.3 798 415 C803.8 439.7 808 480 808 508 C808 536 802.2 558 798 583 C793.8 608 791.3 637.2 783 658 C774.7 678.8 760.5 692.2 748 708 C735.5 723.8 720.5 740.5 708 753 C695.5 765.5 687.2 776.3 673 783 C658.8 789.7 642.2 793.8 623 793 C603.8 792.2 577.2 783 558 778 C538.8 773 521.8 767.2 508 763 C494.2 758.8 488.8 758 475 753 C461.2 748 440 742.2 425 733 C410 723.8 394.2 710.5 385 698 C375.8 685.5 374.2 671.3 370 658 C365.8 644.7 366.7 628 360 618 C353.3 608 343.3 604.7 330 598 C316.7 591.3 295.8 586.3 280 578 C264.2 569.7 245.8 559.7 235 548 C224.2 536.3 217.5 524.3 215 508Z" fill="none" stroke="#d25e14" stroke-width="3.6" stroke-linejoin="round"/>
<path d="M538 355 C536.3 366.7 540.5 381.7 548 395 C555.5 408.3 570.5 420.8 583 435 C595.5 449.2 612.2 467.8 623 480 C633.8 492.2 641.3 499.2 648 508 C654.7 516.8 661.3 524.7 663 533 C664.7 541.3 667.2 547.2 658 558 C648.8 568.8 624.7 585.5 608 598 C591.3 610.5 570.2 622.2 558 633 C545.8 643.8 538.3 653 535 663 C531.7 673 531.7 682.2 538 693 C544.3 703.8 558.8 719.7 573 728 C587.2 736.3 607.2 743.8 623 743 C638.8 742.2 655.5 733 668 723 C680.5 713 691 698 698 683 C705 668 708.3 651.3 710 633 C711.7 614.7 706.7 587.2 708 573 C709.3 558.8 712.2 558.8 718 548 C723.8 537.2 737.2 519.3 743 508 C748.8 496.7 751.3 491.3 753 480 C754.7 468.7 756.3 455 753 440 C749.7 425 741.3 404.2 733 390 C724.7 375.8 715.5 365.8 703 355 C690.5 344.2 673.8 332.2 658 325 C642.2 317.8 624.7 312 608 312 C591.3 312 569.7 317.8 558 325 C546.3 332.2 539.7 343.3 538 355Z" fill="none" stroke="#f4a42c" stroke-width="3.6" stroke-linejoin="round"/>
<path d="M390 508 C389.2 488.3 390.8 458 395 440 C399.2 422 406.7 408.3 415 400 C423.3 391.7 434.2 390.8 445 390 C455.8 389.2 469.5 392.2 480 395 C490.5 397.8 498.3 400.3 508 407 C517.7 413.7 528 424.5 538 435 C548 445.5 559.7 457.8 568 470 C576.3 482.2 585.5 496.7 588 508 C590.5 519.3 588 528 583 538 C578 548 570.5 558.5 558 568 C545.5 577.5 524.3 590 508 595 C491.7 600 473.8 599.2 460 598 C446.2 596.8 435 594.7 425 588 C415 581.3 405.8 571.3 400 558 C394.2 544.7 390.8 527.7 390 508Z" fill="none" stroke="#d25e14" stroke-width="3.6" stroke-linejoin="round"/>
<path d="M467 490 C467.8 484.2 470.3 474.5 475 470 C479.7 465.5 488.3 463 495 463 C501.7 463 509.7 465.5 515 470 C520.3 474.5 525.8 483 527 490 C528.2 497 525.7 506.7 522 512 C518.3 517.3 511.2 520.7 505 522 C498.8 523.3 490.8 522.8 485 520 C479.2 517.2 473 510 470 505 C467 500 466.2 495.8 467 490Z" fill="none" stroke="#8f1e08" stroke-width="3.6" stroke-linejoin="round"/>
</g>
<defs>
<filter id="p4_b50" filterUnits="userSpaceOnUse" x="-200" y="-200" width="1416" height="1416" color-interpolation-filters="sRGB"><feGaussianBlur stdDeviation="50"/></filter>
<filter id="p4_b48" filterUnits="userSpaceOnUse" x="-200" y="-200" width="1416" height="1416" color-interpolation-filters="sRGB"><feGaussianBlur stdDeviation="48"/></filter>
<filter id="p4_b40" filterUnits="userSpaceOnUse" x="-200" y="-200" width="1416" height="1416" color-interpolation-filters="sRGB"><feGaussianBlur stdDeviation="40"/></filter>
<filter id="p4_b35" filterUnits="userSpaceOnUse" x="-200" y="-200" width="1416" height="1416" color-interpolation-filters="sRGB"><feGaussianBlur stdDeviation="35"/></filter>
<filter id="p4_b30" filterUnits="userSpaceOnUse" x="-200" y="-200" width="1416" height="1416" color-interpolation-filters="sRGB"><feGaussianBlur stdDeviation="30"/></filter>
<filter id="p4_b60" filterUnits="userSpaceOnUse" x="-200" y="-200" width="1416" height="1416" color-interpolation-filters="sRGB"><feGaussianBlur stdDeviation="60"/></filter>
<filter id="p4_b32" filterUnits="userSpaceOnUse" x="-200" y="-200" width="1416" height="1416" color-interpolation-filters="sRGB"><feGaussianBlur stdDeviation="32"/></filter>
<filter id="p4_b25" filterUnits="userSpaceOnUse" x="-200" y="-200" width="1416" height="1416" color-interpolation-filters="sRGB"><feGaussianBlur stdDeviation="25"/></filter>
<filter id="p4_map" filterUnits="userSpaceOnUse" x="-200" y="-200" width="1416" height="1416" color-interpolation-filters="sRGB">
<feColorMatrix type="matrix" values="2 -2 0 0 0  -2 2 0 0 0  0 0 0 0 0  0 0 0 0 1"/>
<feColorMatrix type="matrix" values="0 -1 0 0 1  -1 -1 0 0 1  -1 0 0 0 1  0 0 0 0 1"/>
</filter>
<clipPath id="p4_clip"><rect x="17" y="15" width="988" height="988"/></clipPath>

</defs>
<g transform="translate(440 591) scale(0.417323)">
<g clip-path="url(#p4_clip)"><g filter="url(#p4_map)">
<rect x="-200" y="-200" width="1416" height="1416" fill="#000"/>
<ellipse class="pl" cx="360" cy="250" rx="190" ry="130" transform="rotate(30 360 250)" fill="#0f0" fill-opacity="0.350" filter="url(#p4_b50)"/>
<ellipse class="pl" cx="385" cy="282" rx="110" ry="52" transform="rotate(30 385 282)" fill="#0f0" fill-opacity="0.560" filter="url(#p4_b48)"/>
<ellipse class="pl" cx="560" cy="290" rx="100" ry="50" transform="rotate(10 560 290)" fill="#0f0" fill-opacity="0.250" filter="url(#p4_b40)"/>
<ellipse class="pl" cx="100" cy="130" rx="90" ry="110" fill="#0f0" fill-opacity="0.100" filter="url(#p4_b50)"/>
<ellipse class="pl" cx="680" cy="540" rx="130" ry="250" transform="rotate(-10 680 540)" fill="#0f0" fill-opacity="0.350" filter="url(#p4_b50)"/>
<ellipse class="pl" cx="705" cy="405" rx="58" ry="82" transform="rotate(-30 705 405)" fill="#0f0" fill-opacity="0.850" filter="url(#p4_b35)"/>
<ellipse class="pl" cx="650" cy="672" rx="70" ry="62" fill="#0f0" fill-opacity="0.800" filter="url(#p4_b35)"/>
<ellipse class="pl" cx="315" cy="490" rx="55" ry="75" fill="#0f0" fill-opacity="0.300" filter="url(#p4_b30)"/>
<ellipse class="pl" cx="340" cy="570" rx="90" ry="50" transform="rotate(20 340 570)" fill="#0f0" fill-opacity="0.200" filter="url(#p4_b30)"/>
<ellipse class="pl" cx="850" cy="880" rx="160" ry="130" fill="#0f0" fill-opacity="0.150" filter="url(#p4_b60)"/>
<ellipse class="pl" cx="700" cy="860" rx="110" ry="60" fill="#0f0" fill-opacity="0.200" filter="url(#p4_b40)"/>
<ellipse class="pl" cx="700" cy="60" rx="90" ry="30" fill="#0f0" fill-opacity="0.080" filter="url(#p4_b30)"/>
<ellipse class="pl" cx="220" cy="800" rx="300" ry="260" fill="#f00" fill-opacity="0.170" filter="url(#p4_b50)"/>
<ellipse class="pl" cx="270" cy="858" rx="90" ry="70" fill="#f00" fill-opacity="0.060" filter="url(#p4_b40)"/>
<ellipse class="pl" cx="60" cy="858" rx="50" ry="80" fill="#f00" fill-opacity="0.050" filter="url(#p4_b40)"/>
<ellipse class="pl" cx="110" cy="450" rx="90" ry="120" fill="#f00" fill-opacity="0.170" filter="url(#p4_b50)"/>
<ellipse class="pl" cx="460" cy="705" rx="60" ry="55" fill="#f00" fill-opacity="0.130" filter="url(#p4_b32)"/>
<ellipse class="pl" cx="490" cy="480" rx="40" ry="40" fill="#f00" fill-opacity="0.080" filter="url(#p4_b25)"/>
<ellipse class="pl" cx="610" cy="160" rx="90" ry="50" transform="rotate(15 610 160)" fill="#f00" fill-opacity="0.130" filter="url(#p4_b35)"/>
<ellipse class="pl" cx="920" cy="300" rx="80" ry="230" fill="#f00" fill-opacity="0.150" filter="url(#p4_b50)"/>
<ellipse class="pl" cx="560" cy="930" rx="60" ry="60" fill="#f00" fill-opacity="0.070" filter="url(#p4_b40)"/>
</g></g>
<path d="M140 508 C135.5 486.7 136.3 461.3 138 440 C139.7 418.7 142.2 398.3 150 380 C157.8 361.7 171.7 345 185 330 C198.3 315 213.3 302.5 230 290 C246.7 277.5 265 265.8 285 255 C305 244.2 328.3 232.8 350 225 C371.7 217.2 394.2 212.2 415 208 C435.8 203.8 459.5 201.5 475 200 C490.5 198.5 494.2 199 508 199 C521.8 199 537.2 197.3 558 200 C578.8 202.7 609.7 207.5 633 215 C656.3 222.5 678.8 232.5 698 245 C717.2 257.5 733 274.2 748 290 C763 305.8 775.5 321.7 788 340 C800.5 358.3 813 380 823 400 C833 420 842.2 442 848 460 C853.8 478 856 490 858 508 C860 526 860.8 546.3 860 568 C859.2 589.7 858.3 617.2 853 638 C847.7 658.8 838.8 675.5 828 693 C817.2 710.5 801.3 727.2 788 743 C774.7 758.8 761.3 775.5 748 788 C734.7 800.5 723 810.2 708 818 C693 825.8 674.7 831.5 658 835 C641.3 838.5 624.7 839.8 608 839 C591.3 838.2 574.7 832.8 558 830 C541.3 827.2 526 825.7 508 822 C490 818.3 469.7 814.5 450 808 C430.3 801.5 410.8 793.8 390 783 C369.2 772.2 345.8 757.2 325 743 C304.2 728.8 284.2 715.5 265 698 C245.8 680.5 226.7 659.7 210 638 C193.3 616.3 176.7 589.7 165 568 C153.3 546.3 144.5 529.3 140 508Z" fill="none" stroke="#8f1e08" stroke-width="3.6" stroke-linejoin="round"/>
<path d="M198 508 C194.3 487.5 195.2 468.8 198 450 C200.8 431.2 206.3 410.8 215 395 C223.7 379.2 235.8 366.7 250 355 C264.2 343.3 281.7 335 300 325 C318.3 315 339.2 304.2 360 295 C380.8 285.8 405.8 276.2 425 270 C444.2 263.8 461.2 260.5 475 258 C488.8 255.5 490 255.8 508 255 C526 254.2 559.7 250.5 583 253 C606.3 255.5 627.2 260.5 648 270 C668.8 279.5 691.3 295 708 310 C724.7 325 736.3 343.3 748 360 C759.7 376.7 770.5 393.3 778 410 C785.5 426.7 790 443.7 793 460 C796 476.3 796 491.7 796 508 C796 524.3 792.8 541.3 793 558 C793.2 574.7 797.8 591.3 797 608 C796.2 624.7 793.7 641.3 788 658 C782.3 674.7 773 693 763 708 C753 723 741.3 736.3 728 748 C714.7 759.7 698.8 770.5 683 778 C667.2 785.5 649.7 791 633 793 C616.3 795 599.7 792.5 583 790 C566.3 787.5 545.5 781.2 533 778 C520.5 774.8 516.8 773.5 508 771 C499.2 768.5 491.3 766.8 480 763 C468.7 759.2 453.3 754.7 440 748 C426.7 741.3 411.7 732.2 400 723 C388.3 713.8 381.7 703 370 693 C358.3 683 347.5 674.7 330 663 C312.5 651.3 283.3 638 265 623 C246.7 608 231.2 592.2 220 573 C208.8 553.8 201.7 528.5 198 508Z" fill="none" stroke="#d25e14" stroke-width="3.6" stroke-linejoin="round"/>
<path d="M253 460 C255.5 445.3 262.2 430 270 420 C277.8 410 290 404.2 300 400 C310 395.8 320.8 395 330 395 C339.2 395 348.3 395.8 355 400 C361.7 404.2 367 410 370 420 C373 430 372.5 445.3 373 460 C373.5 474.7 373.8 495 373 508 C372.2 521 371.8 529.3 368 538 C364.2 546.7 357.2 554.2 350 560 C342.8 565.8 333.3 572.2 325 573 C316.7 573.8 309.2 570 300 565 C290.8 560 277.5 552.5 270 543 C262.5 533.5 257.8 521.8 255 508 C252.2 494.2 250.5 474.7 253 460Z" fill="none" stroke="#f4a42c" stroke-width="3.6" stroke-linejoin="round"/>
<path d="M440 350 C437.5 345 440.8 340.8 445 335 C449.2 329.2 454.5 320.8 465 315 C475.5 309.2 492.5 303.7 508 300 C523.5 296.3 541.3 293.8 558 293 C574.7 292.2 591.3 290.5 608 295 C624.7 299.5 643 309.2 658 320 C673 330.8 686.3 346.7 698 360 C709.7 373.3 721 386.7 728 400 C735 413.3 738.3 429.2 740 440 C741.7 450.8 741.7 458.5 738 465 C734.3 471.5 725.5 477.3 718 479 C710.5 480.7 703 478.2 693 475 C683 471.8 672.2 467.5 658 460 C643.8 452.5 624.7 439.2 608 430 C591.3 420.8 574.7 412.8 558 405 C541.3 397.2 524.3 389.7 508 383 C491.7 376.3 471.3 370.5 460 365 C448.7 359.5 442.5 355 440 350Z" fill="none" stroke="#f4a42c" stroke-width="3.6" stroke-linejoin="round"/>
<path d="M538 678 C541.8 668.8 546.3 653.8 558 643 C569.7 632.2 589.7 619.3 608 613 C626.3 606.7 651.3 605 668 605 C684.7 605 698 607.5 708 613 C718 618.5 724.7 628 728 638 C731.3 648 731.3 661.3 728 673 C724.7 684.7 717.2 697.2 708 708 C698.8 718.8 686.3 731 673 738 C659.7 745 643 749.2 628 750 C613 750.8 596.3 747.5 583 743 C569.7 738.5 556 730.5 548 723 C540 715.5 536.7 705.5 535 698 C533.3 690.5 534.2 687.2 538 678Z" fill="none" stroke="#f4a42c" stroke-width="3.6" stroke-linejoin="round"/>
<path d="M435 470 C437.8 459.5 442.5 451.5 450 445 C457.5 438.5 470.3 433.7 480 431 C489.7 428.3 496.7 426.7 508 429 C519.3 431.3 533 437.3 548 445 C563 452.7 583 464.5 598 475 C613 485.5 629.3 499.2 638 508 C646.7 516.8 650 521.3 650 528 C650 534.7 649.2 540.5 638 548 C626.8 555.5 600.5 565.5 583 573 C565.5 580.5 545.5 588.2 533 593 C520.5 597.8 516.8 600.3 508 602 C499.2 603.7 489.7 606.2 480 603 C470.3 599.8 457.5 593.8 450 583 C442.5 572.2 437.8 550.5 435 538 C432.2 525.5 433 519.3 433 508 C433 496.7 432.2 480.5 435 470Z" fill="none" stroke="#d25e14" stroke-width="3.6" stroke-linejoin="round"/>
</g>

<g fill="none" stroke="#2a2a2a" stroke-width="1.15">
<rect x="0.5" y="79.5" width="423.5" height="424"/>
<rect x="437.5" y="81.5" width="420" height="420"/>
<rect x="3.5" y="591.5" width="424" height="424"/>
<rect x="440.5" y="591.5" width="424" height="424"/>
</g>
<text class="tt" x="77" y="23.5">snapshot m-ring</text>
<text class="tt" x="585" y="23.5">THEMIS</text>
<text class="tt" x="107" y="554.3">eht-imaging</text>
<text class="tt" x="585" y="554.3">DoG-HiT</text>
<defs><linearGradient id="cb" x1="0" y1="0" x2="0" y2="1">
<stop offset="0" stop-color="#ff0000"/><stop offset="0.5" stop-color="#ffffff"/><stop offset="1" stop-color="#0000ff"/>
</linearGradient></defs>
<rect x="893.5" y="81.5" width="21.5" height="420" fill="url(#cb)" stroke="#111" stroke-width="1"/>
<g stroke="#111" stroke-width="1">
<line x1="915" y1="81.5" x2="918.5" y2="81.5"/>
<line x1="915" y1="186.5" x2="918.5" y2="186.5"/>
<line x1="915" y1="291.5" x2="918.5" y2="291.5"/>
<line x1="915" y1="396.5" x2="918.5" y2="396.5"/>
<line x1="915" y1="501.5" x2="918.5" y2="501.5"/>
</g>
<text class="tk" x="920" y="92.2">0.2</text>
<text class="tk" x="920" y="197.2">0.1</text>
<text class="tk" x="920" y="302.2">0.0</text>
<text class="tk" x="921" y="407.2">&#8722;0.1</text>
<text class="tk" x="921" y="512.2">&#8722;0.2</text>
<text class="lb" transform="translate(1009,488) rotate(-90)">Brightness Temperature (10<tspan font-size="21" dy="-12">9</tspan><tspan dy="12"> K)</tspan></text>
</svg>
</body></html>
